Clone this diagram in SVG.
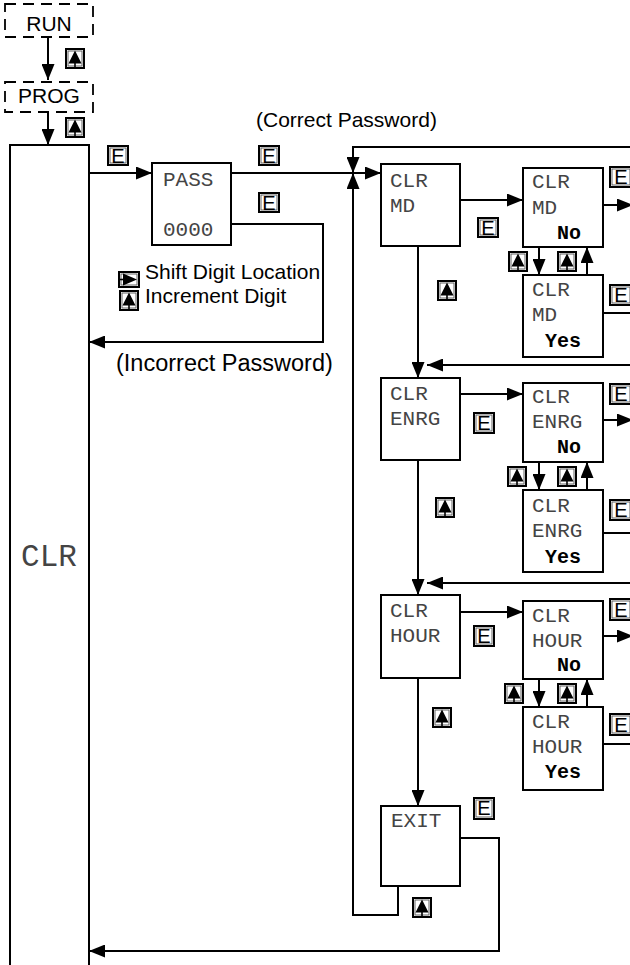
<svg xmlns="http://www.w3.org/2000/svg" width="630" height="965" viewBox="0 0 630 965">
<style>
.box{fill:#fff;stroke:#000;stroke-width:2}
.dash{fill:#fff;stroke:#000;stroke-width:1.8;stroke-dasharray:11,7}
.ln{fill:none;stroke:#000;stroke-width:2}
.mono{font-family:"Liberation Mono","Courier New",monospace;font-size:21px;fill:#444}
.big{font-size:31px}
.bold{font-family:"Liberation Mono","Courier New",monospace;font-size:20px;font-weight:bold;fill:#000}
.sans{font-family:"Liberation Sans",Arial,sans-serif;fill:#000}
.s21{font-size:21px}
.s23{font-size:23.5px}
.ef{fill:#fff;stroke:#000;stroke-width:2}
.ei{fill:none;stroke:#555;stroke-width:0.9}
.et{font-family:"Liberation Sans",Arial,sans-serif;font-size:20px;fill:#000;text-anchor:middle}
</style>
<defs>
<marker id="ar" markerUnits="userSpaceOnUse" markerWidth="16" markerHeight="13" refX="16" refY="6.5" orient="auto">
<path d="M0,0 L16,6.5 L0,13 z" fill="#000"/>
</marker>
<g id="up">
<rect x="1" y="1" width="18" height="19" fill="#fff" stroke="#000" stroke-width="2"/>
<rect x="3" y="3" width="14" height="15" fill="none" stroke="#555" stroke-width="0.9"/>
<polygon points="10,2.5 3.5,15.5 16.5,15.5" fill="#000"/>
<line x1="10" y1="14" x2="10" y2="20" stroke="#000" stroke-width="1.6"/>
</g>
<g id="rt">
<rect x="1" y="1" width="20" height="15" fill="#fff" stroke="#000" stroke-width="2"/>
<rect x="3" y="3" width="16" height="11" fill="none" stroke="#555" stroke-width="0.9"/>
<polygon points="19,8.5 5,2.5 5,14.5" fill="#000"/>
<line x1="1" y1="8.5" x2="7" y2="8.5" stroke="#000" stroke-width="1.6"/>
</g>
</defs>

<g id="connectors">
<path class="ln" d="M48,37 V80" marker-end="url(#ar)"/>
<path class="ln" d="M48,112 V145" marker-end="url(#ar)"/>
<path class="ln" d="M89,173 H152" marker-end="url(#ar)"/>
<path class="ln" d="M231,173 H381" marker-end="url(#ar)"/>
<path class="ln" d="M632,147 H353 V173" marker-end="url(#ar)"/>
<path class="ln" d="M398,886 V915 H353 V173" marker-end="url(#ar)"/>
<path class="ln" d="M231,224 H323 V342 H89" marker-end="url(#ar)"/>
<path class="ln" d="M460,838 H499 V951 H89" marker-end="url(#ar)"/>

<path class="ln" d="M460,200 H523" marker-end="url(#ar)"/>
<path class="ln" d="M603,205 H633" marker-end="url(#ar)"/>
<path class="ln" d="M539,247 V275" marker-end="url(#ar)"/>
<path class="ln" d="M587,275 V247" marker-end="url(#ar)"/>
<path class="ln" d="M603,313 H632"/>
<path class="ln" d="M418,246 V378" marker-end="url(#ar)"/>
<path class="ln" d="M632,365 H427" marker-end="url(#ar)"/>

<path class="ln" d="M460,394 H523" marker-end="url(#ar)"/>
<path class="ln" d="M603,420 H633" marker-end="url(#ar)"/>
<path class="ln" d="M539,462 V490" marker-end="url(#ar)"/>
<path class="ln" d="M587,490 V462" marker-end="url(#ar)"/>
<path class="ln" d="M603,533 H632"/>
<path class="ln" d="M418,460 V595" marker-end="url(#ar)"/>
<path class="ln" d="M632,583 H427" marker-end="url(#ar)"/>

<path class="ln" d="M460,612 H523" marker-end="url(#ar)"/>
<path class="ln" d="M603,636 H633" marker-end="url(#ar)"/>
<path class="ln" d="M539,679 V707" marker-end="url(#ar)"/>
<path class="ln" d="M587,707 V679" marker-end="url(#ar)"/>
<path class="ln" d="M603,744 H632"/>
<path class="ln" d="M418,678 V806" marker-end="url(#ar)"/>
</g>

<g id="run"><rect class="dash" x="5" y="4" width="88" height="33"/><text class="sans s21" x="49" y="31" text-anchor="middle">RUN</text></g>
<g id="prog"><rect class="dash" x="5" y="82" width="88" height="30"/><text class="sans s21" x="49" y="103" text-anchor="middle">PROG</text></g>
<g id="clr"><rect class="box" x="10" y="145" width="79" height="830"/><text class="mono big" x="49" y="566" text-anchor="middle">CLR</text></g>
<g id="pass"><rect class="box" x="152" y="163" width="79" height="82"/><text class="mono" x="163" y="186">PASS</text><text class="mono" x="163" y="236">0000</text></g>

<g id="clr-md"><rect class="box" x="381" y="164" width="79" height="82"/><text class="mono" x="390" y="187">CLR</text><text class="mono" x="390" y="212">MD</text></g>
<g id="clr-md-no"><rect class="box" x="523" y="168" width="80" height="79"/><text class="mono" x="532" y="188">CLR</text><text class="mono" x="532" y="214">MD</text><text class="bold" x="557" y="239">No</text></g>
<g id="clr-md-yes"><rect class="box" x="523" y="275" width="80" height="82"/><text class="mono" x="532" y="296">CLR</text><text class="mono" x="532" y="321">MD</text><text class="bold" x="545" y="347">Yes</text></g>

<g id="clr-enrg"><rect class="box" x="381" y="378" width="79" height="82"/><text class="mono" x="390" y="400">CLR</text><text class="mono" x="390" y="425">ENRG</text></g>
<g id="clr-enrg-no"><rect class="box" x="523" y="383" width="80" height="79"/><text class="mono" x="532" y="403">CLR</text><text class="mono" x="532" y="428">ENRG</text><text class="bold" x="557" y="453">No</text></g>
<g id="clr-enrg-yes"><rect class="box" x="523" y="490" width="80" height="82"/><text class="mono" x="532" y="512">CLR</text><text class="mono" x="532" y="537">ENRG</text><text class="bold" x="545" y="563">Yes</text></g>

<g id="clr-hour"><rect class="box" x="381" y="595" width="79" height="83"/><text class="mono" x="390" y="617">CLR</text><text class="mono" x="390" y="642">HOUR</text></g>
<g id="clr-hour-no"><rect class="box" x="523" y="601" width="80" height="78"/><text class="mono" x="532" y="622">CLR</text><text class="mono" x="532" y="647">HOUR</text><text class="bold" x="557" y="671">No</text></g>
<g id="clr-hour-yes"><rect class="box" x="523" y="707" width="80" height="83"/><text class="mono" x="532" y="728">CLR</text><text class="mono" x="532" y="753">HOUR</text><text class="bold" x="545" y="778">Yes</text></g>

<g id="exit"><rect class="box" x="381" y="806" width="79" height="80"/><text class="mono" x="391" y="827">EXIT</text></g>

<g id="labels">
<text class="sans s21" x="256" y="127">(Correct Password)</text>
<text class="sans s23" x="116" y="371">(Incorrect Password)</text>
<text class="sans s21" x="145" y="279">Shift Digit Location</text>
<text class="sans s21" x="145" y="303">Increment Digit</text>
</g>

<g id="icons">
<use href="#up" x="65" y="48"/>
<use href="#up" x="65" y="117"/>
<use href="#rt" x="118" y="271"/>
<use href="#up" x="119" y="290"/>
<use href="#up" x="437" y="280"/>
<use href="#up" x="435" y="497"/>
<use href="#up" x="432" y="707"/>
<use href="#up" x="412" y="897"/>
<use href="#up" x="508" y="251"/>
<use href="#up" x="557" y="251"/>
<use href="#up" x="507" y="466"/>
<use href="#up" x="557" y="466"/>
<use href="#up" x="504" y="683"/>
<use href="#up" x="557" y="683"/>
<g><rect class="ef" x="108" y="146" width="20" height="19"/><rect class="ei" x="110" y="148" width="16" height="15"/><text class="et" x="118" y="163">E</text></g>
<g><rect class="ef" x="259" y="146" width="20" height="19"/><rect class="ei" x="261" y="148" width="16" height="15"/><text class="et" x="269" y="163">E</text></g>
<g><rect class="ef" x="259" y="193" width="20" height="19"/><rect class="ei" x="261" y="195" width="16" height="15"/><text class="et" x="269" y="210">E</text></g>
<g><rect class="ef" x="478" y="218" width="20" height="19"/><rect class="ei" x="480" y="220" width="16" height="15"/><text class="et" x="488" y="235">E</text></g>
<g><rect class="ef" x="610" y="167" width="22" height="20"/><rect class="ei" x="612" y="169" width="18" height="16"/><text class="et" x="621" y="184">E</text></g>
<g><rect class="ef" x="610" y="285" width="22" height="20"/><rect class="ei" x="612" y="287" width="18" height="16"/><text class="et" x="621" y="302">E</text></g>
<g><rect class="ef" x="474" y="413" width="20" height="20"/><rect class="ei" x="476" y="415" width="16" height="16"/><text class="et" x="484" y="430">E</text></g>
<g><rect class="ef" x="610" y="384" width="22" height="20"/><rect class="ei" x="612" y="386" width="18" height="16"/><text class="et" x="621" y="401">E</text></g>
<g><rect class="ef" x="610" y="500" width="22" height="20"/><rect class="ei" x="612" y="502" width="18" height="16"/><text class="et" x="621" y="517">E</text></g>
<g><rect class="ef" x="474" y="626" width="20" height="20"/><rect class="ei" x="476" y="628" width="16" height="16"/><text class="et" x="484" y="643">E</text></g>
<g><rect class="ef" x="610" y="599" width="22" height="21"/><rect class="ei" x="612" y="601" width="18" height="17"/><text class="et" x="621" y="617">E</text></g>
<g><rect class="ef" x="610" y="714" width="22" height="21"/><rect class="ei" x="612" y="716" width="18" height="17"/><text class="et" x="621" y="732">E</text></g>
<g><rect class="ef" x="474" y="798" width="20" height="21"/><rect class="ei" x="476" y="800" width="16" height="17"/><text class="et" x="484" y="815">E</text></g>
</g>
</svg>
